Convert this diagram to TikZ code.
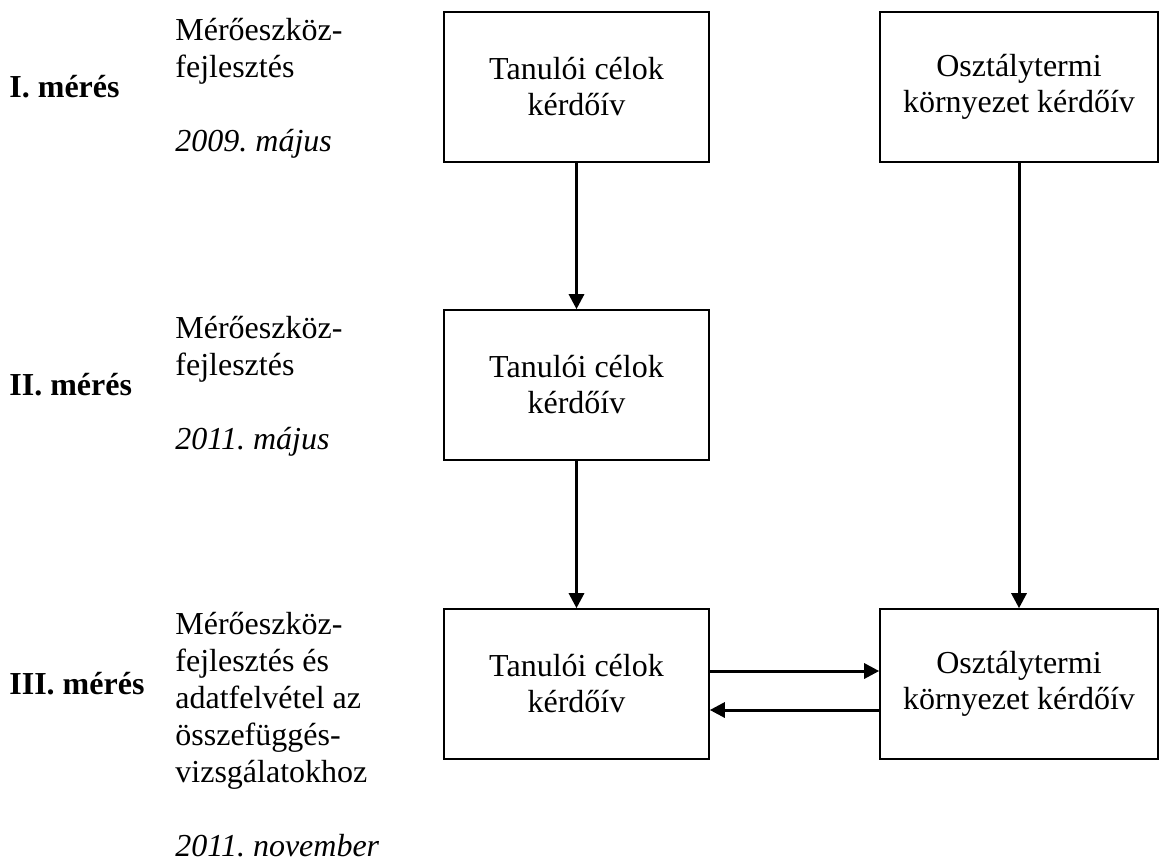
\documentclass[tikz,border=0pt]{standalone}
\usepackage{fontspec}
\setmainfont{Liberation Serif}
\usetikzlibrary{arrows.meta}
\usetikzlibrary{positioning}
\frenchspacing

\begin{document}
\begin{tikzpicture}[x=0.5pt, y=-0.5pt,
    kerdoiv/.style={draw, line width=0.8pt, minimum width=132.5pt, minimum height=75pt,
                    align=center, inner sep=0pt, font=\fontsize{16}{18}\selectfont},
    tanulo/.style={kerdoiv},
    osztaly/.style={kerdoiv, minimum width=139pt},
    felirat/.style={anchor=west, align=left, inner sep=0pt, font=\fontsize{16}{18.5}\selectfont},
    meres/.style={anchor=west, inner sep=0pt, font=\fontsize{16}{18.5}\selectfont\bfseries},
    nyil/.style={line width=1.5pt, -{Triangle[width=7.5pt,length=7.5pt]}}]
    \useasboundingbox (0,0) rectangle (1160,862);
    % Meresek
    \node[meres]   (meresI)   at (9, 87)   {I. mérés};
    \node[meres]   (meresII)  at (9, 385)  {II. mérés};
    \node[meres]   (meresIII) at (9, 684)  {III. mérés};
    % Leirasok
    \node[felirat] (leirasI)   at (175, 88)  {Mérőeszköz-\\fejlesztés\\[18.5pt]\textit{2009. május}};
    \node[felirat] (leirasII)  at (175, 386) {Mérőeszköz-\\fejlesztés\\[18.5pt]\textit{2011. május}};
    \node[felirat] (leirasIII) at (175, 735) {Mérőeszköz-\\fejlesztés és\\adatfelvétel az\\összefüggés-\\vizsgálatokhoz\\[18.5pt]\textit{2011. november}};
    % Kerdoivek
    \node[tanulo]  (tanuloI)   at (576.5, 87)  {Tanulói célok\\kérdőív};
    \node[osztaly] (osztalyI)  at (1019, 87)   {Osztálytermi\\környezet kérdőív};
    \node[tanulo]  (tanuloII)  at (576.5, 385) {Tanulói célok\\kérdőív};
    \node[tanulo]  (tanuloIII) at (576.5, 684) {Tanulói célok\\kérdőív};
    \node[osztaly] (osztalyIII) at (1019, 684) {Osztálytermi\\környezet kérdőív};
    % Nyilak
    \draw[nyil] (tanuloI.south)  -- (tanuloII.north);
    \draw[nyil] (tanuloII.south) -- (tanuloIII.north);
    \draw[nyil] (osztalyI.south) -- (osztalyIII.north);
    \draw[nyil] ([yshift=6.5pt]tanuloIII.east)  -- ([yshift=6.5pt]osztalyIII.west);
    \draw[nyil] ([yshift=-13pt]osztalyIII.west) -- ([yshift=-13pt]tanuloIII.east);
\end{tikzpicture}
\end{document}
